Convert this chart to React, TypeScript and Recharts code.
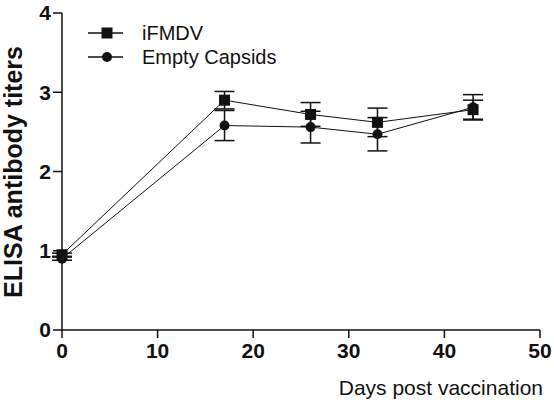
import { LineChart, Line, XAxis, YAxis, ErrorBar, Legend } from 'recharts';

const DAYS = [0, 17, 26, 33, 43];
const IFMDV = [0.95, 2.9, 2.72, 2.62, 2.78];
const IFMDV_ERR = [0.02, 0.11, 0.15, 0.18, 0.12];
const EMPTY = [0.9, 2.58, 2.56, 2.47, 2.81];
const EMPTY_ERR = [0.02, 0.19, 0.2, 0.21, 0.16];
const X_TICKS = [0, 10, 20, 30, 40, 50];
const Y_TICKS = [0, 1, 2, 3, 4];

const INK = '#111';
const FONT = 'Liberation Sans, Arial, sans-serif';

const data = DAYS.map((d, i) => ({
  day: d,
  ifmdv: IFMDV[i],
  ifmdvErr: IFMDV_ERR[i],
  empty: EMPTY[i],
  emptyErr: EMPTY_ERR[i],
}));

const Square = (p: any) => (
  <rect key={`s${p.index}`} x={p.cx - 5.5} y={p.cy - 5.5} width={11} height={11} fill={INK} />
);
const Dot = (p: any) => <circle key={`c${p.index}`} cx={p.cx} cy={p.cy} r={5} fill={INK} />;

// legend drawn by hand so the markers match the series
const LegendBox = () => (
  <svg width={230} height={50} style={{ fontFamily: FONT, display: 'block' }}>
    <line x1={0} y1={10} x2={35} y2={10} stroke={INK} strokeWidth={1.5} />
    <rect x={13.5} y={4.5} width={11} height={11} fill={INK} />
    <text x={54} y={17} fontSize={20} fill={INK}>iFMDV</text>
    <line x1={0} y1={34} x2={35} y2={34} stroke={INK} strokeWidth={1.5} />
    <circle cx={19} cy={34} r={5} fill={INK} />
    <text x={54} y={41} fontSize={20} fill={INK}>Empty Capsids</text>
  </svg>
);

export default function App() {
  return (
    <div style={{ position: 'absolute', left: 0, top: 0, background: '#fff' }}>
      <LineChart
        width={554}
        height={402}
        data={data}
        margin={{ top: 13, right: 14, left: 0, bottom: 0 }}
        style={{ fontFamily: FONT }}
      >
        <XAxis
          dataKey="day"
          type="number"
          domain={[0, 50]}
          ticks={X_TICKS}
          height={72}
          tickSize={8}
          stroke={INK}
          strokeWidth={1.5}
          tick={{ fill: INK, fontSize: 21, fontWeight: 'bold', dy: 3 }}
          label={{
            content: () => (
              <text x={543} y={395} textAnchor="end" fontSize={21} fill={INK} fontFamily={FONT}>
                Days post vaccination
              </text>
            ),
          }}
        />
        <YAxis
          type="number"
          domain={[0, 4]}
          ticks={Y_TICKS}
          width={62}
          tickSize={9}
          tickMargin={2}
          stroke={INK}
          strokeWidth={1.5}
          tick={{ fill: INK, fontSize: 21, fontWeight: 'bold' }}
          label={{
            content: () => (
              <text
                x={22}
                y={172}
                transform="rotate(-90, 22, 172)"
                textAnchor="middle"
                fontSize={25}
                fontWeight="bold"
                fill={INK}
                fontFamily={FONT}
              >
                ELISA antibody titers
              </text>
            ),
          }}
        />
        <Legend
          verticalAlign="middle"
          align="center"
          layout="vertical"
          content={LegendBox}
          wrapperStyle={{ left: 88, top: 23, width: 230 }}
        />
        <Line
          dataKey="ifmdv"
          stroke={INK}
          strokeWidth={1}
          dot={Square}
          activeDot={false}
          isAnimationActive={false}
        >
          <ErrorBar dataKey="ifmdvErr" width={10} stroke={INK} strokeWidth={1.5} direction="y" />
        </Line>
        <Line
          dataKey="empty"
          stroke={INK}
          strokeWidth={1}
          dot={Dot}
          activeDot={false}
          isAnimationActive={false}
        >
          <ErrorBar dataKey="emptyErr" width={10} stroke={INK} strokeWidth={1.5} direction="y" />
        </Line>
      </LineChart>
    </div>
  );
}
